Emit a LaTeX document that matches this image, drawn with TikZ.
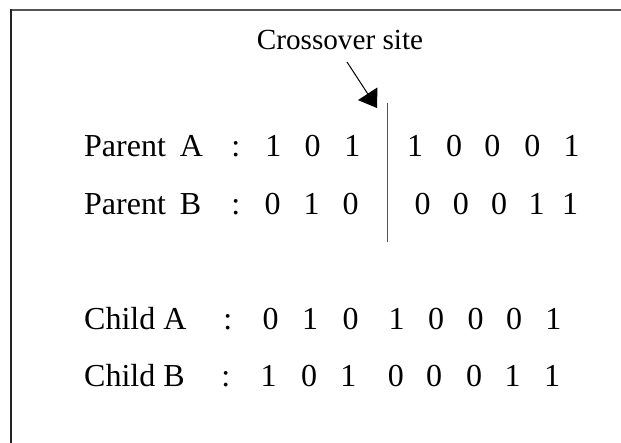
\documentclass[tikz,border=0pt]{standalone}
\usepackage{fontspec}
\setmainfont{Liberation Serif}
\usetikzlibrary{arrows.meta}
\definecolor{framegray}{HTML}{555555}
\definecolor{frameedge}{HTML}{222222}
\tikzset{
  rowtext/.style={inner sep=0pt, anchor=base west, font=\fontsize{32bp}{36bp}\selectfont},
  bit/.style={inner sep=0pt, anchor=base, font=\fontsize{32bp}{36bp}\selectfont},
  cuttext/.style={inner sep=0pt, anchor=base, font=\fontsize{29.2bp}{34bp}\selectfont},
  cutline/.style={draw=framegray, line width=1.3bp},
  pointer/.style={draw=black, line width=1bp, -{Triangle[length=17bp,width=23bp]}}
}
\begin{document}
\begin{tikzpicture}[x=1bp, y=-1bp]
  \useasboundingbox (0,0) rectangle (621,443);
  % open frame: top and left edges only
  \draw[framegray, line width=2bp] (11,10) -- (621,10);
  \draw[frameedge, line width=2bp] (11,9) -- (11,443);

  % crossover marker
  \node[cuttext] (site) at (340,50) {Crossover site};
  \coordinate (cutA) at (387.7,102.7);
  \coordinate (cutB) at (387.7,241.7);
  \draw[cutline] (cutA) -- (cutB);
  \coordinate (ptrstart) at (347,62);
  \coordinate (ptrtip) at (377,108);
  \draw[pointer] (ptrstart) -- (ptrtip);

  % parents
  \node[rowtext] (labPA) at (84,156.7) {Parent\hspace{14bp}A};
  \node[bit] (colPA) at (235.7,156.7) {:};
  \foreach \x/\d [count=\i] in {273.3/1,312.5/0,352.3/1,415/1,454/0,492.3/0,532.3/0,571.7/1}
    \node[bit] (pa\i) at (\x,156.7) {\d};

  \node[rowtext] (labPB) at (84,215) {Parent\hspace{14bp}B};
  \node[bit] (colPB) at (235.7,215) {:};
  \foreach \x/\d [count=\i] in {272.7/0,311.7/1,350.7/0,422.5/0,460.8/0,499/0,536.7/1,570/1}
    \node[bit] (pb\i) at (\x,215) {\d};

  % children
  \node[rowtext] (labCA) at (84,329) {Child A};
  \node[bit] (colCA) at (227.7,329) {:};
  \foreach \x/\d [count=\i] in {270.7/0,310/1,350.7/0,396.7/1,436/0,475.7/0,514/0,553.3/1}
    \node[bit] (ca\i) at (\x,329) {\d};

  \node[rowtext] (labCB) at (84,386) {Child B};
  \node[bit] (colCB) at (225.7,386) {:};
  \foreach \x/\d [count=\i] in {268.5/1,309/0,348.3/1,395.8/0,434.2/0,474.2/0,512.5/1,552/1}
    \node[bit] (cb\i) at (\x,386) {\d};
\end{tikzpicture}
\end{document}
